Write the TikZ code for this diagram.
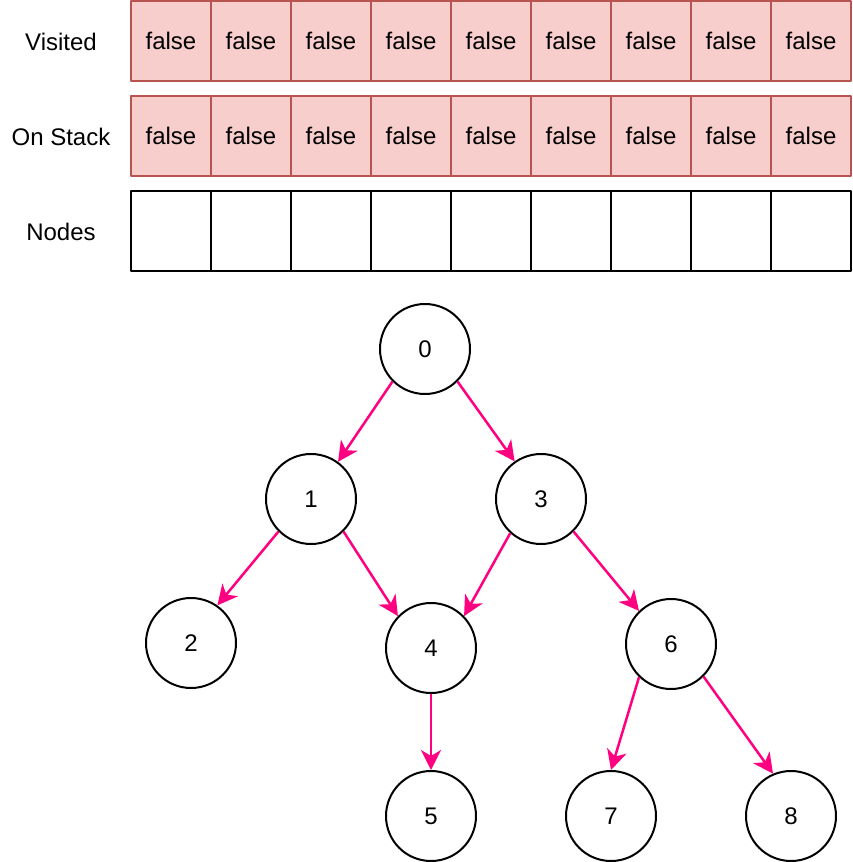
\documentclass[tikz,border=0pt]{standalone}
\usepackage{fontspec}
\setmainfont{Liberation Sans}
\usetikzlibrary{arrows.meta}
\definecolor{cellfill}{HTML}{F8CECC}
\definecolor{celldraw}{HTML}{B85450}
\definecolor{edgepink}{HTML}{FF0080}
\begin{document}
\begin{tikzpicture}[x=0.5pt, y=-0.5pt, line join = round,
    flagcell/.style={draw=celldraw, fill=cellfill, line width=1pt, minimum width=40pt, minimum height=40pt, inner sep=0pt, font=\fontsize{12}{14}\selectfont},
    emptycell/.style={draw=black, line width=1pt, minimum width=40pt, minimum height=40pt, inner sep=0pt},
    rowlabel/.style={font=\fontsize{12}{14}\selectfont},
    vertex/.style={draw=black, fill=white, circle, line width=1pt, minimum size=45pt, inner sep=0pt, font=\fontsize{12}{14}\selectfont},
    edge/.style={draw=edgepink, line width=1.25pt, -{Stealth[length=10pt, width=10pt, inset=3pt]}}]
\useasboundingbox (0,0) rectangle (852,862);

\node[rowlabel] (lv) at (61,42) {Visited};
\node[rowlabel] (ls) at (61,137) {On Stack};
\node[rowlabel] (ln) at (61,232) {Nodes};

\foreach \i in {0,...,8} {
    \node[flagcell] (v\i) at (171+80*\i,41) {false};
    \node[flagcell] (s\i) at (171+80*\i,136) {false};
    \node[emptycell] (n\i) at (171+80*\i,231) {};
}

\node[vertex] (t0) at (425,349) {0};
\node[vertex] (t1) at (311,499) {1};
\node[vertex] (t3) at (541,499) {3};
\node[vertex] (t2) at (191,643) {2};
\node[vertex] (t4) at (431,648) {4};
\node[vertex] (t6) at (671,644) {6};
\node[vertex] (t5) at (431,816) {5};
\node[vertex] (t7) at (611,816) {7};
\node[vertex] (t8) at (791,816) {8};

\draw[edge] (t0.-135)--(t1.54);
\draw[edge] (t0.-45)--(t3.125);
\draw[edge] (t1.-135)--(t2.55);
\draw[edge] (t1.-45)--(t4.136);
\draw[edge] (t3.-132)--(t4.44);
\draw[edge] (t3.-45)--(t6.134);
\draw[edge] (t4.south)--(t5.north);
\draw[edge] (t6.-134)--(t7.north);
\draw[edge] (t6.-45)--(t8.113);
\end{tikzpicture}
\end{document}
